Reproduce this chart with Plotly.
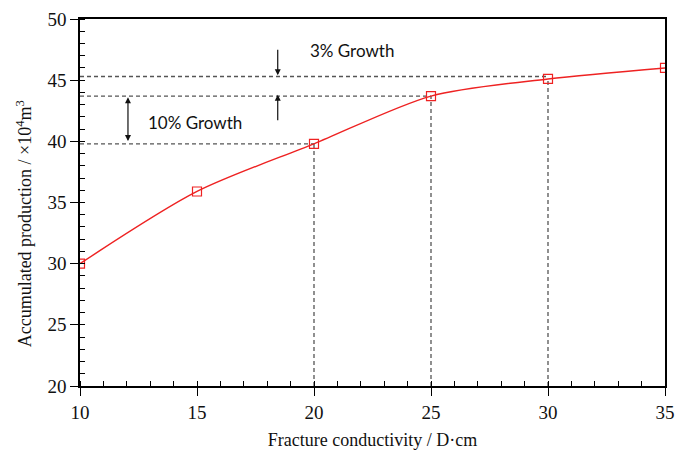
import plotly.graph_objects as go

# Fracture conductivity (D·cm) vs accumulated production (10^4 m^3)
conductivity = [10, 15, 20, 25, 30, 35]
production = [30.0, 35.9, 39.8, 43.7, 45.1, 46.0]

# reference levels used for the growth annotations
ref_x = [20, 25, 30]
ref_y = [39.8, 43.7, 45.3]
growth_labels = ["10% Growth", "3% Growth"]

x_range = [10, 35]
y_range = [20, 50]
x_ticks = [10, 15, 20, 25, 30, 35]
y_ticks = [20, 25, 30, 35, 40, 45, 50]

serif = "Liberation Serif, Times New Roman, serif"
sans = "Lato, Open Sans, sans-serif"

fig = go.Figure()

# dashed guide lines: horizontal from y-axis, vertical down to x-axis
dash_style = dict(color="#555555", width=1.3, dash="4px,3px")
for xv, yv in zip(ref_x, ref_y):
    fig.add_trace(go.Scatter(x=[x_range[0], xv], y=[yv, yv], mode="lines",
                             line=dash_style, hoverinfo="skip", showlegend=False))
for xv, yv in zip(ref_x, production[2:5]):
    fig.add_trace(go.Scatter(x=[xv, xv], y=[y_range[0], yv], mode="lines",
                             line=dash_style, hoverinfo="skip", showlegend=False))

fig.add_trace(go.Scatter(
    x=conductivity, y=production, mode="lines+markers",
    line=dict(color="#ee2222", width=1.4, shape="spline", smoothing=0.8),
    marker=dict(symbol="square-open", size=9, color="#ee2222", line=dict(width=1.2)),
    showlegend=False))

arrow = dict(showarrow=True, arrowhead=2, arrowsize=1, arrowwidth=1.2,
             arrowcolor="#111111", axref="x", ayref="y", text="")
# 10% growth: double-headed arrow between the 40 and 43.7 levels
fig.add_annotation(x=12.05, y=ref_y[1] - 0.1, ax=12.05, ay=ref_y[0] + 0.1,
                   arrowside="end+start", **arrow)
# 3% growth: two arrows pointing at the gap
fig.add_annotation(x=18.45, y=ref_y[2] + 0.1, ax=18.45, ay=47.6, **arrow)
fig.add_annotation(x=18.45, y=ref_y[1] + 0.1, ax=18.45, ay=41.6, **arrow)

fig.add_annotation(x=12.8, y=41.5, text=growth_labels[0], showarrow=False,
                   xanchor="left", font=dict(family=sans, size=17, color="#111111"))
fig.add_annotation(x=19.75, y=47.4, text=growth_labels[1], showarrow=False,
                   xanchor="left", font=dict(family=sans, size=17, color="#111111"))

# y-axis title as a rotated annotation
fig.add_annotation(xref="paper", yref="paper", x=0, y=0.495, xshift=-56, yshift=-20,
                   text="Accumulated production / ×10<sup>4</sup>m<sup>3</sup>",
                   textangle=-90, showarrow=False, xanchor="center", yanchor="middle",
                   font=dict(family=serif, size=18, color="#111111"))

axis_common = dict(showline=True, linecolor="black", linewidth=1.6, mirror=True,
                   ticks="outside", ticklen=8, tickwidth=1.3, tickcolor="black",
                   showgrid=False, zeroline=False, automargin=False,
                   tickfont=dict(family=serif, size=19, color="#111111"),
                   minor=dict(ticks="inside", ticklen=5, tickwidth=1.2,
                              tickcolor="black", dtick=1, showgrid=False))

fig.update_layout(
    width=675, height=456,
    margin=dict(l=80, r=10, t=19, b=70),
    paper_bgcolor="white", plot_bgcolor="white",
    xaxis=dict(range=x_range, tickvals=x_ticks,
               title=dict(text="Fracture conductivity / D·cm", standoff=12,
                          font=dict(family=serif, size=18, color="#111111")),
               **axis_common),
    yaxis=dict(range=y_range, tickvals=y_ticks, **axis_common),
    # overlay axes that add the inner half of each major tick
    xaxis2=dict(overlaying="x", range=x_range, tickvals=x_ticks, ticks="inside",
                ticklen=5, tickwidth=1.3, tickcolor="black", showticklabels=False,
                showgrid=False, zeroline=False, showline=False, side="bottom",
                anchor="y", automargin=False),
    yaxis2=dict(overlaying="y", range=y_range, tickvals=y_ticks, ticks="inside",
                ticklen=5, tickwidth=1.3, tickcolor="black", showticklabels=False,
                showgrid=False, zeroline=False, showline=False, side="left",
                anchor="x", automargin=False),
)

# invisible trace so the overlay axes are rendered
fig.add_trace(go.Scatter(x=[x_range[0]], y=[y_range[0]], xaxis="x2", yaxis="y2",
                         mode="markers", marker=dict(opacity=0), hoverinfo="skip",
                         showlegend=False))

fig.write_html("out.html")
